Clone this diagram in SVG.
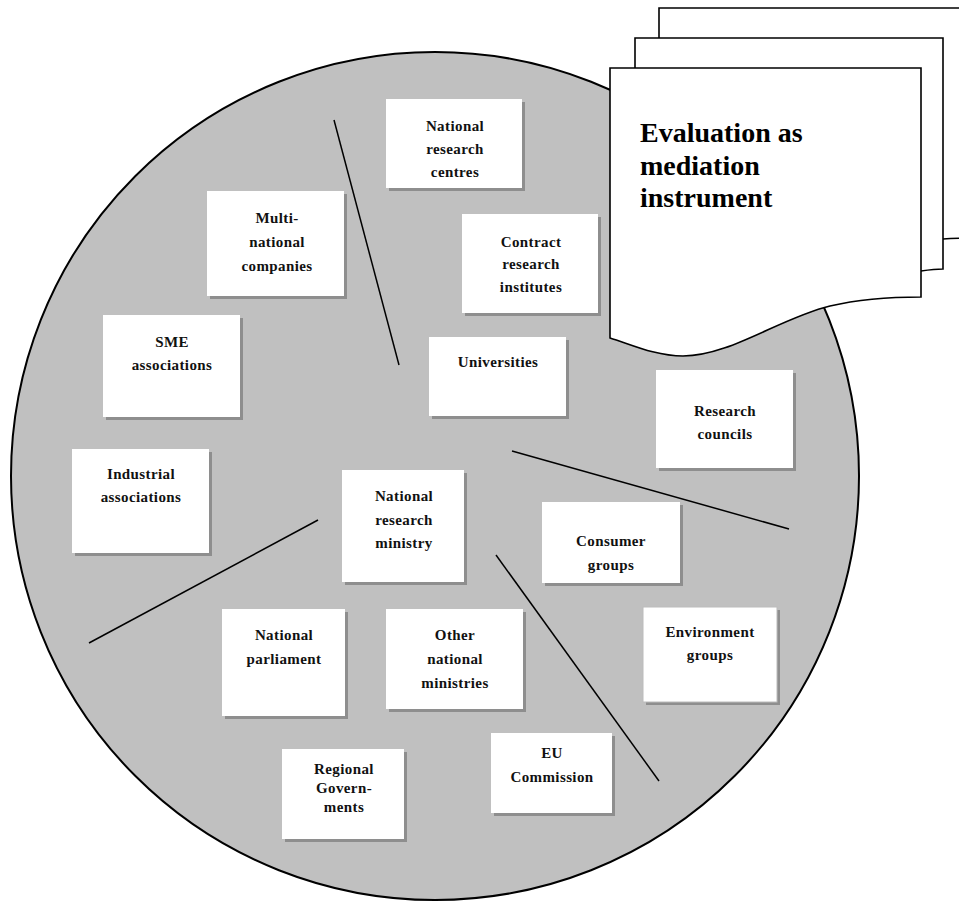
<svg xmlns="http://www.w3.org/2000/svg" width="959" height="901" viewBox="0 0 959 901">
<style>
.bg{fill:#ffffff}
.circle{fill:#c0c0c0;stroke:#000;stroke-width:2}
.shadow{fill:#8e8e8e}
.box{fill:#ffffff}
.lbl{font-family:"Liberation Serif","Times New Roman",serif;font-weight:bold;font-size:15px;letter-spacing:0.4px;text-anchor:middle;fill:#111}
.page{fill:#ffffff;stroke:#000;stroke-width:1.6}
.title{font-family:"Liberation Serif","Times New Roman",serif;font-weight:bold;font-size:28px;fill:#000}
.sep{stroke:#000;stroke-width:1.5;fill:none}
</style>
<rect class="bg" x="0" y="0" width="959" height="901"/>
<circle class="circle" cx="435" cy="476" r="424"/>

<g id="connectors">
<line class="sep" x1="334" y1="120" x2="399" y2="365"/>
<line class="sep" x1="512" y1="451" x2="789" y2="529"/>
<line class="sep" x1="318" y1="520" x2="89" y2="643"/>
<line class="sep" x1="496" y1="555" x2="659" y2="781"/>
</g>

<g id="doc-stack">
<path class="page" d="M659,8 H975 V238 C965,238 955,238 943,239 L900,260 L659,260 Z"/>
<path class="page" d="M635,38 H943 V269 C935,269 928,270 921,271 L880,290 L635,290 Z"/>
<path class="page" d="M610,68 H921 V297 C890,297 860,299 830,306 C780,318 730,356 683,356 C655,356 630,344 610,338 Z"/>
<text class="title" x="640" y="142">Evaluation as</text>
<text class="title" x="640" y="175">mediation</text>
<text class="title" x="640" y="207">instrument</text>
</g>

<g id="national-research-centres">
<rect class="shadow" x="389" y="102" width="136" height="89"/>
<rect class="box" x="386" y="99" width="136" height="89"/>
<text class="lbl" x="455" y="131">National</text>
<text class="lbl" x="455" y="154">research</text>
<text class="lbl" x="455" y="177">centres</text>
</g>

<g id="multinational-companies">
<rect class="shadow" x="210" y="194" width="137" height="105"/>
<rect class="box" x="207" y="191" width="137" height="105"/>
<text class="lbl" x="277" y="223">Multi-</text>
<text class="lbl" x="277" y="247">national</text>
<text class="lbl" x="277" y="271">companies</text>
</g>

<g id="sme-associations">
<rect class="shadow" x="106" y="318" width="137" height="102"/>
<rect class="box" x="103" y="315" width="137" height="102"/>
<text class="lbl" x="172" y="347">SME</text>
<text class="lbl" x="172" y="370">associations</text>
</g>

<g id="contract-research-institutes">
<rect class="shadow" x="465" y="217" width="136" height="99"/>
<rect class="box" x="462" y="214" width="136" height="99"/>
<text class="lbl" x="531" y="247">Contract</text>
<text class="lbl" x="531" y="269">research</text>
<text class="lbl" x="531" y="292">institutes</text>
</g>

<g id="universities">
<rect class="shadow" x="432" y="340" width="137" height="79"/>
<rect class="box" x="429" y="337" width="137" height="79"/>
<text class="lbl" x="498" y="367">Universities</text>
</g>

<g id="industrial-associations">
<rect class="shadow" x="75" y="452" width="137" height="104"/>
<rect class="box" x="72" y="449" width="137" height="104"/>
<text class="lbl" x="141" y="479">Industrial</text>
<text class="lbl" x="141" y="502">associations</text>
</g>

<g id="national-research-ministry">
<rect class="shadow" x="345" y="473" width="122" height="112"/>
<rect class="box" x="342" y="470" width="122" height="112"/>
<text class="lbl" x="404" y="501">National</text>
<text class="lbl" x="404" y="525">research</text>
<text class="lbl" x="404" y="548">ministry</text>
</g>

<g id="research-councils">
<rect class="shadow" x="659" y="373" width="137" height="98"/>
<rect class="box" x="656" y="370" width="137" height="98"/>
<text class="lbl" x="725" y="416">Research</text>
<text class="lbl" x="725" y="439">councils</text>
</g>

<g id="consumer-groups">
<rect class="shadow" x="545" y="505" width="138" height="81"/>
<rect class="box" x="542" y="502" width="138" height="81"/>
<text class="lbl" x="611" y="546">Consumer</text>
<text class="lbl" x="611" y="570">groups</text>
</g>

<g id="environment-groups">
<rect class="shadow" x="646" y="610" width="134" height="95"/>
<rect class="box" x="643" y="607" width="134" height="95" stroke="#bbbbbb" stroke-width="1"/>
<text class="lbl" x="710" y="637">Environment</text>
<text class="lbl" x="710" y="660">groups</text>
</g>

<g id="national-parliament">
<rect class="shadow" x="225" y="612" width="123" height="107"/>
<rect class="box" x="222" y="609" width="123" height="107"/>
<text class="lbl" x="284" y="640">National</text>
<text class="lbl" x="284" y="664">parliament</text>
</g>

<g id="other-national-ministries">
<rect class="shadow" x="389" y="612" width="137" height="100"/>
<rect class="box" x="386" y="609" width="137" height="100"/>
<text class="lbl" x="455" y="640">Other</text>
<text class="lbl" x="455" y="664">national</text>
<text class="lbl" x="455" y="688">ministries</text>
</g>

<g id="regional-governments">
<rect class="shadow" x="285" y="752" width="122" height="90"/>
<rect class="box" x="282" y="749" width="122" height="90"/>
<text class="lbl" x="344" y="774">Regional</text>
<text class="lbl" x="344" y="793">Govern-</text>
<text class="lbl" x="344" y="812">ments</text>
</g>

<g id="eu-commission">
<rect class="shadow" x="494" y="736" width="121" height="80"/>
<rect class="box" x="491" y="733" width="121" height="80"/>
<text class="lbl" x="552" y="758">EU</text>
<text class="lbl" x="552" y="782">Commission</text>
</g>
</svg>
